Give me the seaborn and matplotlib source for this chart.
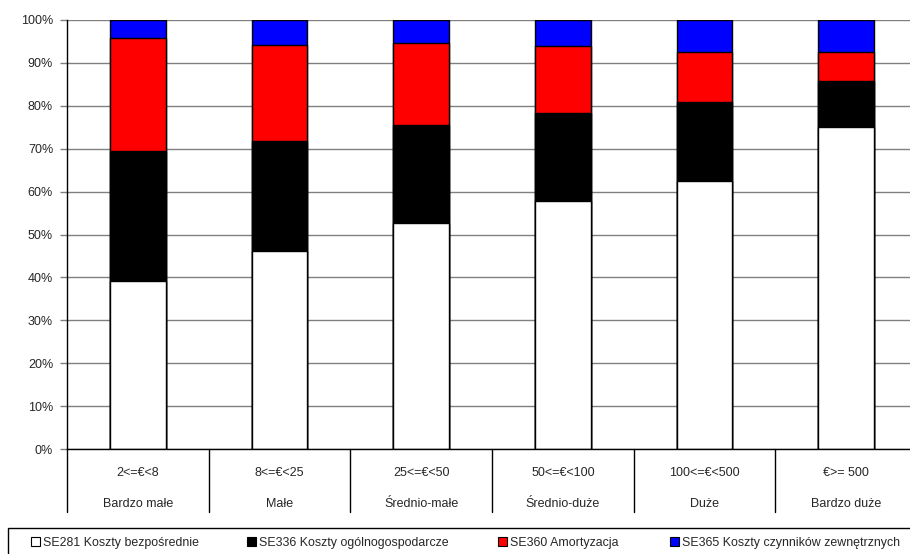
import numpy as np
import pandas as pd
import seaborn as sns
import matplotlib.pyplot as plt
from matplotlib.patches import Rectangle, Patch

# udziały kosztów wg klas wielkości ekonomicznej (%)
categories = ["2<=€<8", "8<=€<25", "25<=€<50", "50<=€<100", "100<=€<500", "€>= 500"]
classes = ["Bardzo małe", "Małe", "Średnio-małe", "Średnio-duże", "Duże", "Bardzo duże"]
se281 = [39.1, 46.2, 52.6, 57.7, 62.5, 75.0]
se336 = [30.3, 25.5, 22.9, 20.6, 18.3, 10.8]
se360 = [26.3, 22.5, 19.1, 15.7, 11.8, 6.8]
se365 = [4.3, 5.8, 5.4, 6.0, 7.4, 7.4]

series_names = ["SE281 Koszty bezpośrednie", "SE336 Koszty ogólnogospodarcze",
                "SE360 Amortyzacja", "SE365 Koszty czynników zewnętrznych"]
colors = ["#FFFFFF", "#000000", "#FF0000", "#0000FF"]

sns.set_theme(style="white")
plt.rcParams['font.family'] = ['Liberation Sans', 'DejaVu Sans']

vals = np.array([se281, se336, se360, se365])
shares = vals / vals.sum(axis=0) * 100
cum = np.cumsum(shares, axis=0)

df = pd.DataFrame({"kat": categories})
for i in range(4):
    df["cum%d" % i] = cum[i]

fig = plt.figure(figsize=(9.1, 5.54), dpi=100)
ax = fig.add_axes([67 / 910, 1 - 449 / 554, 850 / 910, 429 / 554])

# stos: rysujemy od najwyższej sumy skumulowanej do najniższej
for i in range(3, -1, -1):
    sns.barplot(data=df, x="kat", y="cum%d" % i, order=categories, color=colors[i],
                saturation=1, width=0.395, edgecolor="black", linewidth=1, ax=ax)

ax.set_xlim(-0.5, 5.5)
ax.set_ylim(0, 100)
ax.set_yticks(range(0, 101, 10))
ax.set_yticklabels(["%d%%" % v for v in range(0, 101, 10)])
ax.yaxis.grid(True, color="#808080", linewidth=1)
ax.set_axisbelow(True)
ax.tick_params(axis="y", length=5, color="#808080", width=1, pad=5, labelsize=9, left=True)
ax.set_xticks(range(6))
ax.set_xticklabels([])
ax.tick_params(axis="x", length=0)
ax.set_xlabel("")
ax.set_ylabel("")
for s in ["top", "right"]:
    ax.spines[s].set_visible(False)
for s in ["left", "bottom"]:
    ax.spines[s].set_color("black")
    ax.spines[s].set_linewidth(1)

# dwupoziomowa oś kategorii
trans = ax.get_xaxis_transform()
for i, (c, k) in enumerate(zip(categories, classes)):
    ax.text(i, -0.057, c, transform=trans, ha="center", va="center", fontsize=9)
    ax.text(i, -0.129, k, transform=trans, ha="center", va="center", fontsize=9)
for xb in np.arange(-0.5, 6, 1):
    ax.plot([xb, xb], [0, -0.147], transform=trans, color="black", linewidth=1, clip_on=False)

# legenda
fig.patches.append(Rectangle((7.5 / 910, -0.05), 1.0, (554 - 528) / 554 + 0.05,
                             transform=fig.transFigure, fill=False, edgecolor="black",
                             linewidth=1))
leg_x = [31, 247, 498, 670]
for i in range(4):
    h = Patch(facecolor=colors[i], edgecolor="black", linewidth=0.8)
    lg = fig.legend([h], [series_names[i]], loc="center left",
                    bbox_to_anchor=(leg_x[i] / 910, 1 - 543 / 554), frameon=False,
                    fontsize=8.9, handlelength=0.75, handleheight=0.75,
                    handletextpad=0.25, borderaxespad=0, borderpad=0)

fig.savefig("out.png", dpi=100)
